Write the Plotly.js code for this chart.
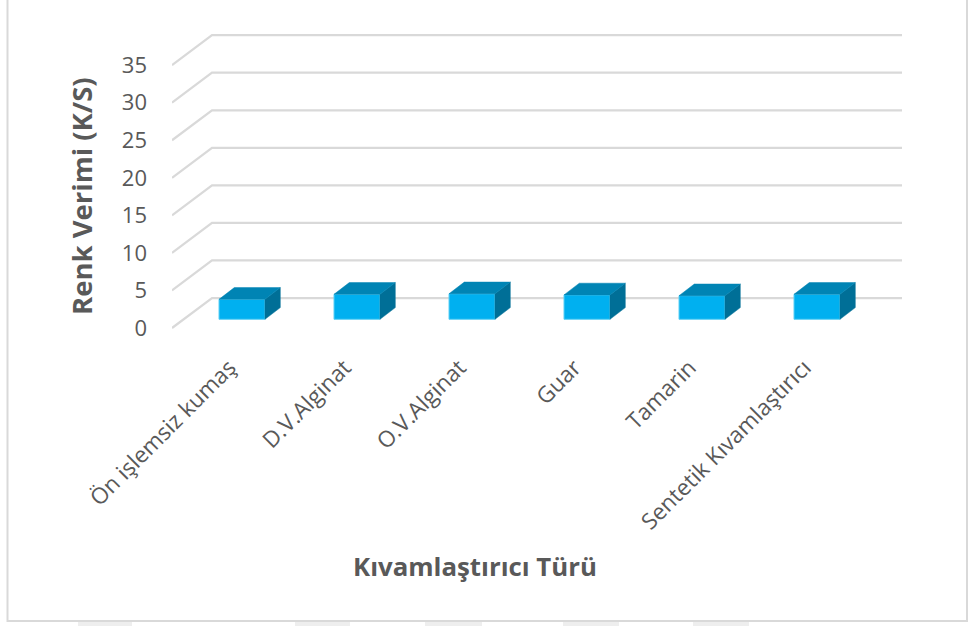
<!DOCTYPE html>
<html><head><meta charset="utf-8">
<script src="https://cdn.plot.ly/plotly-3.0.1.min.js"></script>
<style>html,body{margin:0;padding:0;background:#fff}#c{width:968px;height:626px}</style>
</head><body><div id="c"></div>
<script>
const categories = ["Ön işlemsiz kumaş","D.V.Alginat","O.V.Alginat","Guar","Tamarin","Sentetik Kıvamlaştırıcı"];
const values = [2.66,3.33,3.4,3.25,3.14,3.33];
const gridValues = [0,5,10,15,20,25,30,35];
const idx = categories.map((_,i)=>i);

const W=968,H=626,L=172,R=905,T=28,B=345;
const pxX=115, pxY=7.51, zeroPx=328, firstPx=229.5;
const xr=[(L-firstPx)/pxX,(R-firstPx)/pxX];
const yr=[(zeroPx-B)/pxY,(zeroPx-T)/pxY];
const wallDX=40/pxX, wallDY=30/pxY, wallEnd=(902-firstPx)/pxX, frontLeft=(172-firstPx)/pxX;
const barW=46/pxX, barOff=12.5/pxX, barBase=8.7/pxY, depthX=15.3/pxX, depthY=11.7/pxY;

const gridShapes = gridValues.map(v=>({
  type:'path',layer:'below',xref:'x',yref:'y',
  path:`M${frontLeft},${v}L${frontLeft+wallDX},${v+wallDY}L${wallEnd},${v+wallDY}`,
  line:{color:'#d9d9d9',width:2.25}
}));
const px=x=>(x-L)/(R-L), py=y=>(B-y)/(B-T);
const frame={type:'rect',layer:'below',xref:'paper',yref:'paper',x0:px(7.5),x1:px(967),y0:py(621),y1:py(-5),line:{color:'#d9d9d9',width:2},fillcolor:'rgba(0,0,0,0)'};
const stripStarts=[78,295,425,563,693], stripEnds=[132,350,482,619,749];
const strips=stripStarts.map((s,i)=>({type:'rect',layer:'below',xref:'paper',yref:'paper',x0:px(s),x1:px(stripEnds[i]),y0:py(626),y1:py(622),line:{width:0},fillcolor:'#eeeeee'}));

const topX=[],topY=[],sideX=[],sideY=[];
idx.forEach(i=>{
  const l=i+barOff-barW/2,r=i+barOff+barW/2,b=barBase,t=barBase+values[i];
  topX.push(l,r,r+depthX,l+depthX,l,null);
  topY.push(t,t,t+depthY,t+depthY,t,null);
  sideX.push(r,r+depthX,r+depthX,r,r,null);
  sideY.push(b,b+depthY,t+depthY,t,b,null);
});
const data=[
 {type:'bar',x:idx.map(i=>i+barOff),y:values,base:idx.map(()=>barBase),width:barW,
  marker:{color:'#00b0f0',line:{color:'#5cd0f5',width:1}},hoverinfo:'skip',showlegend:false},
 {type:'scatter',mode:'lines',x:sideX,y:sideY,fill:'toself',fillcolor:'#006f97',line:{color:'#006f97',width:0.5},hoverinfo:'skip',showlegend:false},
 {type:'scatter',mode:'lines',x:topX,y:topY,fill:'toself',fillcolor:'#0084b4',line:{color:'#0084b4',width:0.5},hoverinfo:'skip',showlegend:false}
];
const font='"Open Sans", "Noto Sans", sans-serif';
const layout={
 width:W,height:H,paper_bgcolor:'#fff',plot_bgcolor:'rgba(0,0,0,0)',showlegend:false,
 margin:{l:L,r:W-R,t:T,b:H-B,pad:0},
 font:{family:font,color:'#595959',size:22},
 xaxis:{type:'linear',range:xr,tickmode:'array',tickvals:idx,ticktext:categories,tickangle:-45,
   showgrid:false,zeroline:false,showline:false,ticks:'',tickfont:{family:font,size:22.5,color:'#595959'},ticklabelstandoff:4},
 yaxis:{type:'linear',range:yr,tickmode:'array',tickvals:gridValues,ticktext:gridValues.map(String),
   showgrid:false,zeroline:false,showline:false,ticks:'',tickfont:{family:font,size:22,color:'#595959'},ticklabelstandoff:24},
 shapes:[frame,...strips,...gridShapes],
 annotations:[
  {text:'<b>Kıvamlaştırıcı Türü</b>',xref:'paper',yref:'paper',x:px(475),y:py(566),xanchor:'center',yanchor:'middle',showarrow:false,font:{family:font,size:25.8,color:'#595959'}},
  {text:'<b>Renk Verimi (K/S)</b>',xref:'paper',yref:'paper',x:px(81),y:py(196),xanchor:'center',yanchor:'middle',textangle:-90,showarrow:false,font:{family:font,size:27.5,color:'#595959'}}
 ]
};
Plotly.newPlot('c',data,layout,{displayModeBar:false,staticPlot:true});
</script></body></html>
